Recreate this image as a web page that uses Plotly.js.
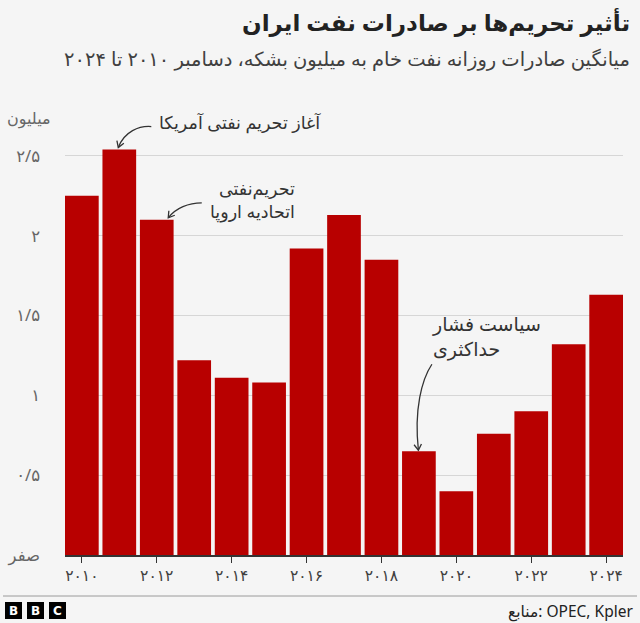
<!DOCTYPE html>
<html>
<head>
<meta charset="utf-8">
<script src="https://cdn.plot.ly/plotly-3.0.1.min.js"></script>
<style>
  html, body { margin: 0; padding: 0; background: #f5f5f5; }
  #chart { width: 640px; height: 623px; }
</style>
</head>
<body>
<div id="chart"></div>
<script>
// Iran's average daily crude oil exports (million barrels), December of each year
const years = [2010, 2011, 2012, 2013, 2014, 2015, 2016, 2017, 2018, 2019, 2020, 2021, 2022, 2023, 2024];
const exportsMbd = [2.25, 2.54, 2.10, 1.22, 1.11, 1.08, 1.92, 2.13, 1.85, 0.65, 0.40, 0.76, 0.90, 1.32, 1.63];

// Axis labels in Persian numerals
const xTickVals = [2010, 2012, 2014, 2016, 2018, 2020, 2022, 2024];
const xTickText = ['۲۰۱۰', '۲۰۱۲', '۲۰۱۴', '۲۰۱۶', '۲۰۱۸', '۲۰۲۰', '۲۰۲۲', '۲۰۲۴'];
const yTickVals = [0, 0.5, 1, 1.5, 2, 2.5];
const yTickText = ['صفر', '۰/۵', '۱', '۱/۵', '۲', '۲/۵'];

const W = 640, H = 623;
const M = { l: 65, r: 17, t: 124, b: 68 };
const plotW = W - M.l - M.r, plotH = H - M.t - M.b;
// page pixel -> paper fraction
const px = x => (x - M.l) / plotW;
const py = y => (H - M.b - y) / plotH;

const FONT = '"Noto Sans", "DejaVu Sans", sans-serif';
const RED = '#b80000';
const INK = '#333333';

function valueOf(year) { return exportsMbd[years.indexOf(year)]; }

// Curved callout arrow anchored on a bar top; points are pixel offsets (y up) from the anchor
function callout(year, start, c1, c2, tip) {
  const shapes = [];
  const base = {
    type: 'path', xref: 'x', yref: 'y', xsizemode: 'pixel', ysizemode: 'pixel',
    xanchor: year, yanchor: valueOf(year),
    line: { color: INK, width: 1.3 }
  };
  shapes.push(Object.assign({}, base, {
    path: `M${start[0]},${start[1]} C${c1[0]},${c1[1]} ${c2[0]},${c2[1]} ${tip[0]},${tip[1]}`
  }));
  // arrowhead
  let dx = c2[0] - tip[0], dy = c2[1] - tip[1];
  const len = Math.hypot(dx, dy); dx /= len; dy /= len;
  const a = 32 * Math.PI / 180, L = 7;
  const rot = (s) => [tip[0] + L * (dx * Math.cos(s) - dy * Math.sin(s)),
                      tip[1] + L * (dx * Math.sin(s) + dy * Math.cos(s))];
  const p1 = rot(a), p2 = rot(-a);
  shapes.push(Object.assign({}, base, {
    path: `M${p1[0].toFixed(2)},${p1[1].toFixed(2)} L${tip[0]},${tip[1]} L${p2[0].toFixed(2)},${p2[1].toFixed(2)}`
  }));
  return shapes;
}

const shapes = [
  ...callout(2011, [32, 23], [20, 24], [5, 18], [-1, 2]),
  ...callout(2012, [45, 17], [32, 17], [19, 12], [11.5, 2]),
  ...callout(2019, [13, 87], [3, 72], [-5, 42], [-0.5, 1]),
  // footer rule
  { type: 'line', xref: 'paper', yref: 'paper', x0: px(3), x1: px(637), y0: py(596), y1: py(596),
    line: { color: '#9a9a9a', width: 1 } }
];

// BBC blocks
const bbcLetters = ['B', 'B', 'C'];
const bbcLeft = [5, 27, 49];
const annotations = [];
bbcLetters.forEach((ch, i) => {
  shapes.push({ type: 'rect', xref: 'paper', yref: 'paper',
    x0: px(bbcLeft[i]), x1: px(bbcLeft[i] + 17), y0: py(619), y1: py(602),
    fillcolor: '#000', line: { width: 0 } });
  annotations.push({ xref: 'paper', yref: 'paper', x: px(bbcLeft[i] + 8.5), y: py(610.5),
    text: '<b>' + ch + '</b>', showarrow: false, xanchor: 'center', yanchor: 'middle',
    font: { family: '"DejaVu Sans", sans-serif', size: 12, color: '#fff' } });
});

annotations.push(
  { xref: 'paper', yref: 'paper', x: px(632), y: py(22), xanchor: 'right', yanchor: 'middle',
    text: '<b>تأثیر تحریم‌ها بر صادرات نفت ایران</b>', showarrow: false,
    font: { family: FONT, size: 23, color: '#222' } },
  { xref: 'paper', yref: 'paper', x: px(632), y: py(58), xanchor: 'right', yanchor: 'middle',
    text: 'میانگین صادرات روزانه نفت خام به میلیون بشکه، دسامبر ۲۰۱۰ تا ۲۰۲۴', showarrow: false,
    font: { family: FONT, size: 19.5, color: '#404040' } },
  { xref: 'paper', yref: 'paper', x: px(5), y: py(118), xanchor: 'left', yanchor: 'middle',
    text: 'میلیون', showarrow: false, font: { family: FONT, size: 16, color: '#666' } },
  { xref: 'paper', yref: 'paper', x: px(323), y: py(122), xanchor: 'right', yanchor: 'middle',
    text: 'آغاز تحریم نفتی آمریکا', showarrow: false, font: { family: FONT, size: 17.5, color: INK } },
  { xref: 'paper', yref: 'paper', x: px(297), y: py(199), xanchor: 'right', yanchor: 'middle', align: 'right',
    text: 'تحریم‌نفتی<br>اتحادیه اروپا', showarrow: false, font: { family: FONT, size: 17.5, color: INK } },
  { xref: 'paper', yref: 'paper', x: px(430), y: py(336), xanchor: 'left', yanchor: 'middle', align: 'left',
    text: 'سیاست فشار<br>حداکثری', showarrow: false, font: { family: FONT, size: 19, color: INK } },
  { xref: 'paper', yref: 'paper', x: px(635), y: py(611), xanchor: 'right', yanchor: 'middle',
    text: 'منابع: OPEC, Kpler', showarrow: false, font: { family: FONT, size: 15.5, color: '#222' } }
);

const trace = {
  type: 'bar', x: years, y: exportsMbd,
  marker: { color: RED, line: { width: 0 } },
  hoverinfo: 'x+y'
};

const layout = {
  width: W, height: H,
  margin: M,
  paper_bgcolor: '#f5f5f5', plot_bgcolor: '#f5f5f5',
  bargap: 0.1,
  showlegend: false,
  font: { family: FONT },
  xaxis: {
    range: [2009.55, 2024.45], fixedrange: true,
    tickmode: 'array', tickvals: xTickVals, ticktext: xTickText,
    ticks: 'outside', ticklen: 6, tickwidth: 1, tickcolor: INK,
    showgrid: false, zeroline: false,
    showline: true, linecolor: INK, linewidth: 1.5,
    tickfont: { family: FONT, size: 15.5, color: '#404040' }
  },
  yaxis: {
    range: [0, 2.7], fixedrange: true,
    tickmode: 'array', tickvals: yTickVals, ticktext: yTickText,
    ticks: '', showline: false, zeroline: false,
    showgrid: true, gridcolor: '#d6d6d6', gridwidth: 1,
    ticklabelstandoff: 24,
    tickfont: { family: FONT, size: 16.5, color: '#666' }
  },
  shapes: shapes,
  annotations: annotations
};

Plotly.newPlot('chart', [trace], layout, { displayModeBar: false, staticPlot: true });
</script>
</body>
</html>
